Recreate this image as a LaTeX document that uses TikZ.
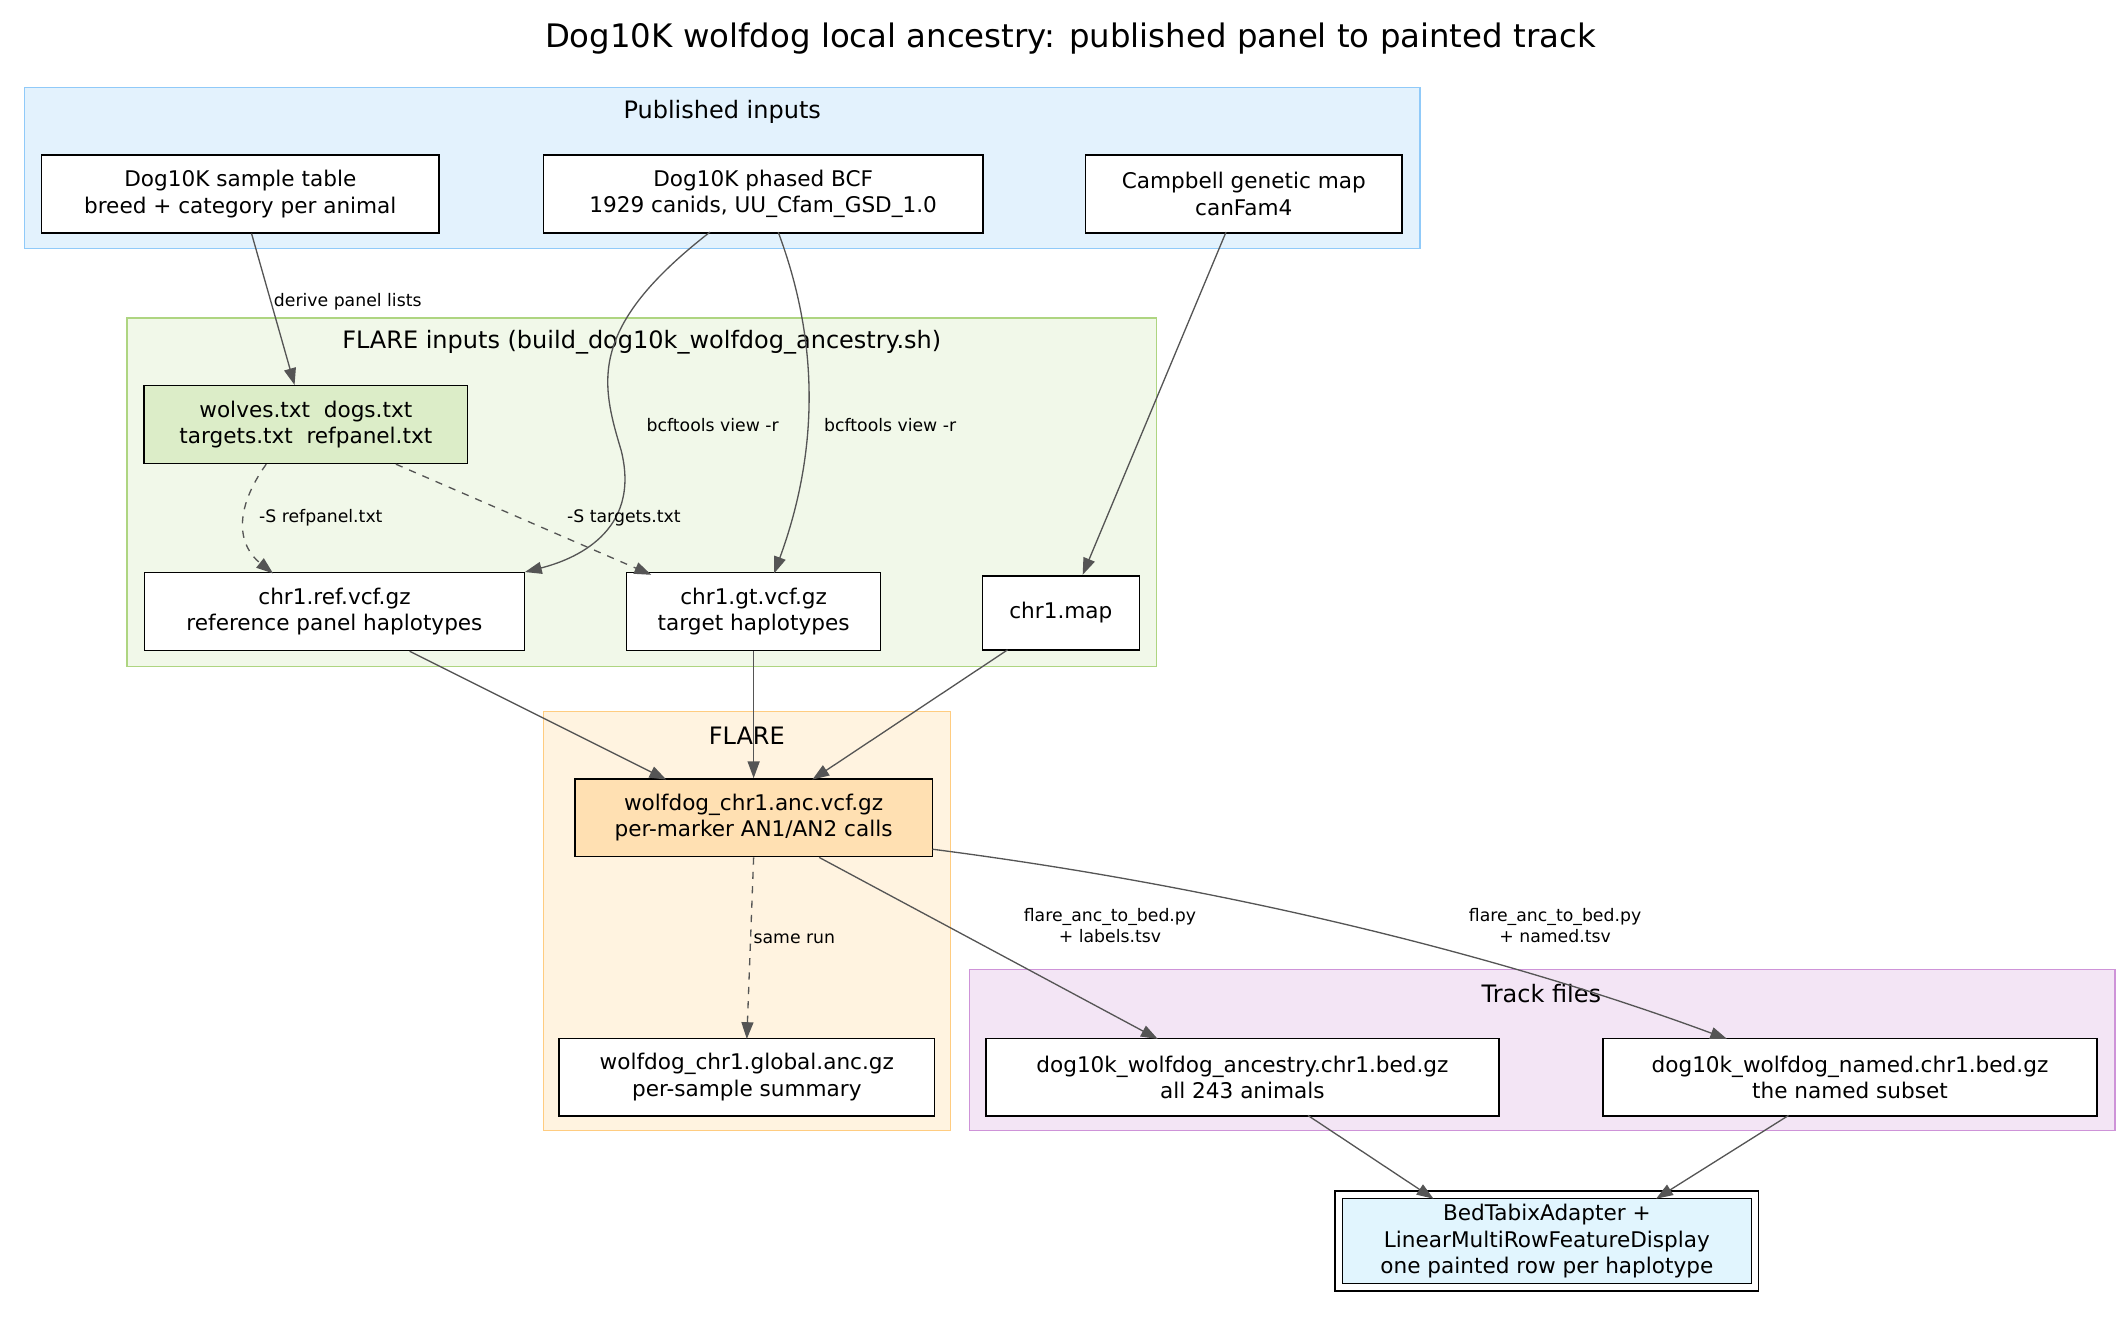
\documentclass[tikz,border=0pt]{standalone}
\usepackage{fontspec}
\setmainfont{DejaVu Sans}
\usetikzlibrary{arrows.meta}
\definecolor{pubfill}{HTML}{E3F2FD}\definecolor{publine}{HTML}{90CAF9}
\definecolor{inpfill}{HTML}{F1F8E9}\definecolor{inpline}{HTML}{AED581}
\definecolor{flrfill}{HTML}{FFF3E0}\definecolor{flrline}{HTML}{FFCC80}
\definecolor{trkfill}{HTML}{F3E5F5}\definecolor{trkline}{HTML}{CE93D8}
\definecolor{listfill}{HTML}{DCEDC8}\definecolor{ancfill}{HTML}{FFE0B2}
\definecolor{adpfill}{HTML}{E1F5FE}\definecolor{edgec}{HTML}{555555}
\begin{document}
\begin{tikzpicture}[x=0.02cm, y=-0.02cm,
    box/.style={draw, line width=0.6pt, fill=white, align=center, minimum height=1.14cm, inner sep=2pt,
      font=\fontsize{9}{11}\selectfont},
    clus/.style={draw=#1line, line width=0.6pt, fill=#1fill},
    ctitle/.style={font=\fontsize{10}{12}\selectfont},
    edge/.style={draw=edgec, line width=0.55pt, -{Triangle[length=7pt,width=5pt]}},
    elabel/.style={font=\fontsize{7.2}{9}\selectfont, align=center, inner sep=1pt}]
    \useasboundingbox (0,0) rectangle (1555,968);
    \node[font=\fontsize{13.5}{16}\selectfont] (title) at (784,28) {Dog10K wolfdog local ancestry: published panel to painted track};
    % clusters
    \draw[clus=pub] (18,64) rectangle (1040,182);
    \draw[clus=inp] (93,233) rectangle (847,488);
    \draw[clus=flr] (398,521) rectangle (696,828);
    \draw[clus=trk] (710,710) rectangle (1549,828);
    \node[ctitle] (tpub) at (529,82) {Published inputs};
    \node[ctitle] (tinp) at (470,251) {FLARE inputs (build\_dog10k\_wolfdog\_ancestry.sh)};
    \node[ctitle] (tflr) at (547,539) {FLARE};
    \node[ctitle] (ttrk) at (1129,728) {Track files};
    % nodes
    \node[box, minimum width=5.82cm] (sample) at (176,142) {Dog10K sample table\\breed + category per animal};
    \node[box, minimum width=6.44cm] (bcf) at (559,142) {Dog10K phased BCF\\1929 canids, UU\_Cfam\_GSD\_1.0};
    \node[box, minimum width=4.64cm] (gmap) at (911,142) {Campbell genetic map\\canFam4};
    \node[box, fill=listfill, minimum width=4.74cm] (lists) at (224,311) {wolves.txt\ \ dogs.txt\\targets.txt\ \ refpanel.txt};
    \node[box, minimum width=5.56cm] (ref) at (245,448) {chr1.ref.vcf.gz\\reference panel haplotypes};
    \node[box, minimum width=3.72cm] (gt) at (552,448) {chr1.gt.vcf.gz\\target haplotypes};
    \node[box, minimum width=2.3cm, minimum height=1.08cm] (cmap) at (777,449) {chr1.map};
    \node[box, fill=ancfill, minimum width=5.24cm] (anc) at (552,599) {wolfdog\_chr1.anc.vcf.gz\\per-marker AN1/AN2 calls};
    \node[box, minimum width=5.5cm] (glob) at (547,789) {wolfdog\_chr1.global.anc.gz\\per-sample summary};
    \node[box, minimum width=7.52cm] (bed1) at (910,789) {dog10k\_wolfdog\_ancestry.chr1.bed.gz\\all 243 animals};
    \node[box, minimum width=7.24cm] (bed2) at (1355,789) {dog10k\_wolfdog\_named.chr1.bed.gz\\the named subset};
    \node[box, fill=adpfill, minimum width=6.1cm, inner sep=4pt, minimum height=1.0cm, double, double distance=2.5pt] (adp) at (1133,909) {BedTabixAdapter +\\LinearMultiRowFeatureDisplay\\one painted row per haplotype};
    % edges
    \draw[edge] (sample) -- node[elabel, right, pos=0.45] {derive panel lists} (lists);
    \draw[edge] (520,170) .. controls (430,240) and (440,280) .. (455,330) .. controls (470,390) and (420,410) .. (ref.north east);
    \node[elabel] (lref) at (522,311) {bcftools view -r};
    \draw[edge] (570,170) .. controls (600,250) and (600,330) .. (567,420);
    \node[elabel] (lgt) at (652,311) {bcftools view -r};
    \draw[edge] (898,170) -- (793,421);
    \draw[edge, dashed] (195,340) .. controls (170,375) and (175,400) .. (200,420);
    \node[elabel] (lsr) at (235,379) {-S refpanel.txt};
    \draw[edge, dashed] (290,340) -- (477,421);
    \node[elabel] (lst) at (457,379) {-S targets.txt};
    \draw[edge] (300,477) -- (488,571);
    \draw[edge] (gt) -- (anc);
    \draw[edge] (738,476) -- (595,571);
    \draw[edge, dashed] (552,628) -- node[elabel, right, pos=0.45] {same run} (547,761);
    \draw[edge] (600,628) -- (848,761);
    \node[elabel] (lb1) at (813,678) {flare\_anc\_to\_bed.py\\+ labels.tsv};
    \draw[edge] (683,622) .. controls (900,650) and (1100,700) .. (1265,761);
    \node[elabel] (lb2) at (1139,678) {flare\_anc\_to\_bed.py\\+ named.tsv};
    \draw[edge] (958,817) -- (1050,878);
    \draw[edge] (1310,817) -- (1213,878);
\end{tikzpicture}
\end{document}
